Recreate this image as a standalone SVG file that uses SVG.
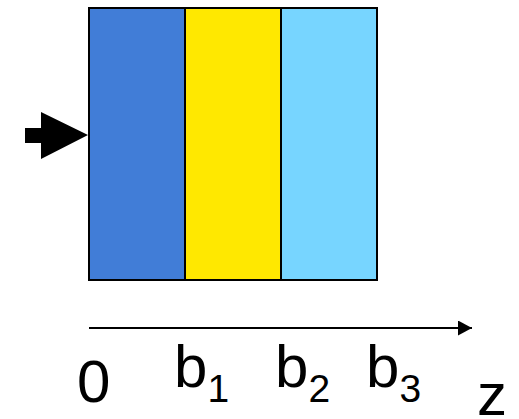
<svg xmlns="http://www.w3.org/2000/svg" width="519" height="419" viewBox="0 0 519 419">
<style>
.t{font-family:"Liberation Sans",Arial,sans-serif;font-size:60px;fill:#000}
.s{font-size:39px}
.layer{stroke:#000;stroke-width:2}
</style>
<defs>
<marker id="ah" markerWidth="14" markerHeight="15" refX="14" refY="7.5" orient="auto" markerUnits="userSpaceOnUse">
<path d="M0,0 L14,7.5 L0,15 Z" fill="#000"/>
</marker>
</defs>
<g id="layer1"><rect class="layer" x="89" y="8" width="96" height="272" fill="#417DD7"/></g>
<g id="layer2"><rect class="layer" x="185" y="8" width="96" height="272" fill="#FFE800"/></g>
<g id="layer3"><rect class="layer" x="281" y="8" width="96" height="272" fill="#77D5FF"/></g>
<g id="input-arrow"><path d="M25,128 H41 V112 L88,135 L41,159 V143 H25 Z" fill="#000"/></g>
<g id="connectors"><line x1="89" y1="328" x2="472" y2="328" stroke="#000" stroke-width="2" marker-end="url(#ah)"/></g>
<g id="labels">
<text class="t" x="77" y="402">0</text>
<text class="t" x="174" y="387">b<tspan class="s" dy="15">1</tspan></text>
<text class="t" x="275" y="387">b<tspan class="s" dy="15">2</tspan></text>
<text class="t" x="366" y="387">b<tspan class="s" dy="15">3</tspan></text>
<text class="t" x="477" y="415">z</text>
</g>
</svg>
